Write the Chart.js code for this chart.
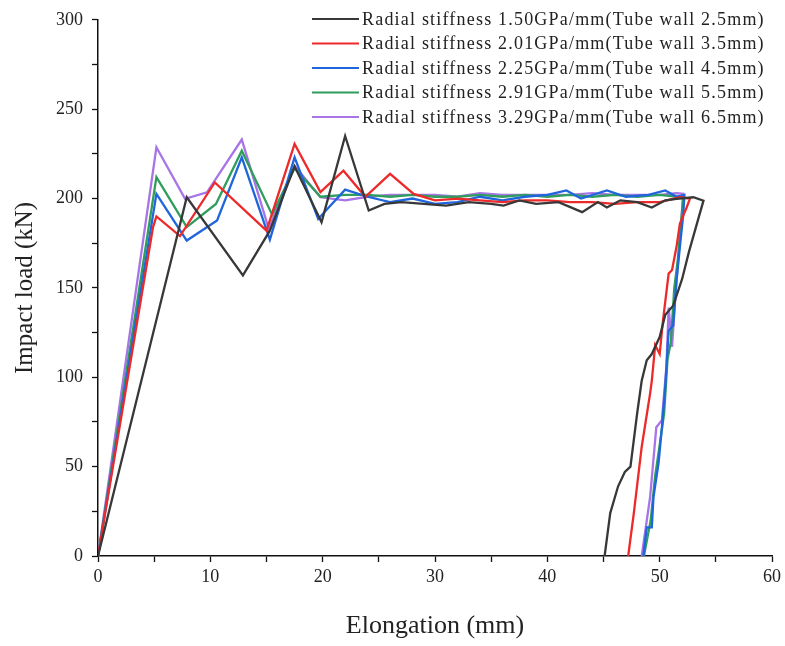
<!DOCTYPE html>
<html>
<head>
<meta charset="utf-8">
<script src="https://cdn.jsdelivr.net/npm/chart.js@4.4.1/dist/chart.umd.min.js"></script>
<style>
  body { margin: 0; background: #fff; }
  #wrap { width: 785px; height: 646px; position: relative; }
</style>
</head>
<body>
<div id="wrap"><canvas id="chart" width="785" height="646"></canvas></div>
<script>
// Elongation (mm) / impact load (kN)
const seriesLabels = [
  'Radial stiffness 1.50GPa/mm(Tube wall 2.5mm)',
  'Radial stiffness 2.01GPa/mm(Tube wall 3.5mm)',
  'Radial stiffness 2.25GPa/mm(Tube wall 4.5mm)',
  'Radial stiffness 2.91GPa/mm(Tube wall 5.5mm)',
  'Radial stiffness 3.29GPa/mm(Tube wall 6.5mm)'
];

const elong25 = [0, 7.9, 12.9, 15.3, 17.5, 19.9, 22.0, 24.1, 25.5, 27, 29, 31, 33, 35, 36.1, 37.5, 39, 41, 43.1, 44.5, 45.3, 46.5, 48, 49.3, 50.5, 51.5, 53.0, 53.9, 53.5, 52.6, 52.0, 51.2, 50.5, 50.0, 49.3, 48.85, 48.4, 48.0, 47.4, 46.9, 46.3, 45.6, 45.1];
const load25  = [0, 200.7, 157, 182, 218, 186.8, 235, 193.3, 197, 198, 197, 196, 198, 197, 196, 199, 197, 198, 192.4, 198, 195, 199, 198, 195, 199, 199.8, 200.7, 198.8, 190, 170, 155, 140, 135, 122.5, 113, 109.5, 98, 80, 50, 47, 39, 24, 0];

const elong35 = [0, 4.9, 5.2, 7.3, 10.4, 15.0, 17.5, 19.8, 21.85, 23.8, 26.0, 28.1, 30, 32, 34, 36, 38, 40, 42, 44, 46, 48, 50, 51.8, 52.7, 52.4, 51.8, 51.5, 51.1, 50.8, 50.3, 50.0, 49.6, 49.3, 49.15, 48.4, 47.7, 47.2];
const load35  = [0, 184, 190, 179, 209, 182, 230.5, 203.6, 215.6, 201, 213.8, 202.6, 199, 200, 199, 198, 199, 199, 198, 198, 197, 198, 198, 200.7, 200, 195, 186, 173, 160, 158, 132, 113, 118, 98, 91, 61, 24, 0];

const elong45 = [0, 5.2, 7.9, 10.6, 12.8, 15.3, 17.5, 19.6, 22, 24, 26, 28, 30, 32, 34, 36, 38, 40, 41.7, 43, 45.3, 47, 49, 50.5, 51.5, 52.2, 52.1, 51.8, 51.5, 51.2, 50.8, 50.5, 50.2, 49.9, 49.45, 49.3, 48.85, 48.55];
const load45  = [0, 202.6, 176.5, 187.7, 223, 177, 223, 188.6, 205, 201, 198, 200, 197, 198, 201, 199, 201, 202, 204.5, 200, 204.5, 201, 202, 204.5, 201, 202, 191, 173, 154, 129, 126, 95, 72, 52, 33, 16, 16, 0];

const elong55 = [0, 5.2, 7.9, 10.5, 12.8, 15.5, 17.5, 19.8, 22, 24, 26, 28, 30, 32, 34, 36, 38, 40, 42, 44, 46, 48, 50, 51.6, 52.1, 51.9, 51.6, 51.3, 51.0, 50.7, 50.4, 50.0, 49.6, 49.2, 48.6];
const load55  = [0, 212, 184, 197, 226.8, 191, 217, 201, 202, 202, 201, 202, 201, 201, 202, 201, 202, 201, 202, 201, 202, 201, 202, 201, 201, 186, 165, 150, 120, 110, 80, 62, 45, 20, 0];

const elong65 = [0, 5.2, 7.75, 9.7, 12.8, 15.2, 17.5, 19.8, 22, 24, 26, 28, 30, 32, 34, 36, 38, 40, 42, 44, 46, 48, 50, 51.5, 52.1, 51.8, 51.5, 51.1, 50.8, 50.6, 50.2, 49.7, 49.15, 48.4];
const load65  = [0, 228.7, 199.8, 203.5, 233, 183, 218.4, 200.7, 199, 201, 202, 202, 202, 201, 203, 202, 202, 202, 202, 203, 202, 202, 202, 203, 202.6, 177, 154, 117, 139, 106, 76, 72, 33, 0];

const seriesColors = ['#383838', '#ec2a2a', '#1f66dc', '#2f9e5c', '#a874e6'];

const allX = [elong25, elong35, elong45, elong55, elong65];
const allY = [load25, load35, load45, load55, load65];

const serif = "'Liberation Serif', 'DejaVu Serif', serif";

const datasets = allX.map((xs, i) => ({
  label: seriesLabels[i],
  data: xs.map((x, j) => ({ x: x, y: allY[i][j] })),
  borderColor: seriesColors[i],
  backgroundColor: seriesColors[i],
  borderWidth: 2.3,
  pointRadius: 0,
  showLine: true,
  tension: 0
}));

// legend drawn inside the plot, top right
const insideLegend = {
  id: 'insideLegend',
  afterDraw(chart) {
    const ctx = chart.ctx;
    ctx.save();
    ctx.font = '18px ' + serif;
    ctx.letterSpacing = '1.2px';
    ctx.textBaseline = 'middle';
    ctx.fillStyle = '#222';
    chart.data.datasets.forEach((ds, i) => {
      const y = 19 + i * 24.5;
      ctx.strokeStyle = ds.borderColor;
      ctx.lineWidth = 2;
      ctx.beginPath();
      ctx.moveTo(312, y);
      ctx.lineTo(359, y);
      ctx.stroke();
      ctx.fillText(ds.label, 362, y + 1);
    });
    ctx.restore();
  }
};

new Chart(document.getElementById('chart'), {
  type: 'scatter',
  data: { datasets: datasets },
  options: {
    responsive: false,
    animation: false,
    layout: { padding: { top: 19, right: 13, left: 0, bottom: 0 } },
    plugins: {
      legend: { display: false },
      tooltip: { enabled: false }
    },
    scales: {
      x: {
        type: 'linear',
        min: 0,
        max: 60,
        afterFit: (scale) => { scale.height = 90; },
        grid: { drawOnChartArea: false, tickLength: 6, color: '#111', tickWidth: 1.3 },
        border: { display: true, color: '#111', width: 1.5 },
        ticks: {
          stepSize: 5,
          autoSkip: false,
          maxRotation: 0,
          padding: 4,
          color: '#222',
          font: { family: serif, size: 18 },
          callback: (v) => (v % 10 === 0 ? v : '')
        },
        title: {
          display: true,
          text: 'Elongation (mm)',
          color: '#222',
          font: { family: serif, size: 26 },
          padding: { top: 20 }
        }
      },
      y: {
        type: 'linear',
        min: 0,
        max: 300,
        afterFit: (scale) => { scale.width = 98; },
        grid: { drawOnChartArea: false, tickLength: 6, color: '#111', tickWidth: 1.3 },
        border: { display: true, color: '#111', width: 1.5 },
        ticks: {
          stepSize: 25,
          autoSkip: false,
          padding: 9,
          color: '#222',
          font: { family: serif, size: 18 },
          callback: (v) => (v % 50 === 0 ? v : '')
        },
        title: {
          display: true,
          text: 'Impact load (kN)',
          color: '#222',
          font: { family: serif, size: 25 },
          padding: { top: 10, bottom: 0 }
        }
      }
    }
  },
  plugins: [insideLegend]
});
</script>
</body>
</html>
